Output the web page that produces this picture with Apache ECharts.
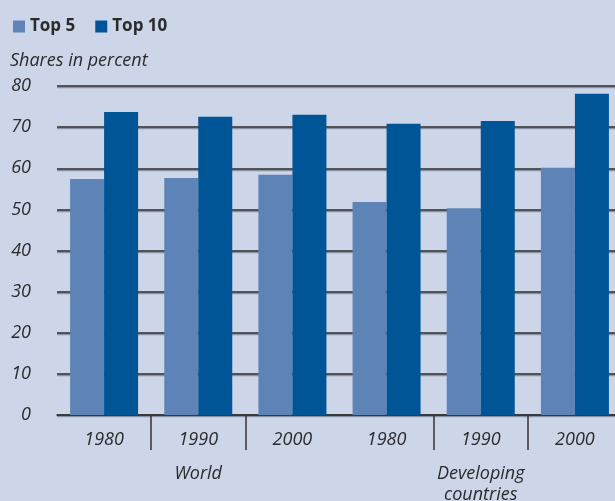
<!DOCTYPE html>
<html><head><meta charset="utf-8">
<script src="https://cdn.jsdelivr.net/npm/echarts@6/dist/echarts.min.js"></script>
<style>html,body{margin:0;padding:0;background:#cdd5e8;overflow:hidden}#c{width:615px;height:501px}</style>
</head><body><div id="c"></div>
<script>
const years = ['1980','1990','2000','1980','1990','2000'];
const groups = ['World','Developing\ncountries'];
const top5 = [57.4, 57.6, 58.4, 51.8, 50.3, 60.1];
const top10 = [73.7, 72.5, 73.0, 70.8, 71.5, 78.1];
const seriesNames = ['Top 5','Top 10'];
const yTicks = [0,10,20,30,40,50,60,70,80];

const chart = echarts.init(document.getElementById('c'), null, {renderer:'canvas'});
const txt = '#2b2b2b';
const font = 'Open Sans';
chart.setOption({
  backgroundColor:'#cdd5e8',
  animation:false,
  legend:{
    left:8, top:13, icon:'rect', itemWidth:12, itemHeight:12, itemGap:20,
    textStyle:{fontFamily:font, fontWeight:'bold', fontSize:17, color:txt},
    data:seriesNames
  },
  title:{
    text:'Shares in percent', left:5, top:47,
    textStyle:{fontFamily:font, fontStyle:'italic', fontWeight:'normal', fontSize:18, color:txt}
  },
  grid:{left:57, top:86, width:565, bottom:86, containLabel:false, outerBoundsMode:'none'},
  xAxis:[{
    type:'category', data:years, position:'bottom',
    axisLine:{show:true, lineStyle:{color:'#333', width:1.5}},
    axisTick:{show:true, length:35, lineStyle:{color:'#333', width:1.5},
      interval:function(i){return i===1||i===2||i===4||i===5;}},
    axisLabel:{margin:16, fontFamily:font, fontStyle:'italic', fontSize:18, color:txt}
  },{
    type:'category', data:groups, position:'bottom', offset:34,
    axisLine:{show:false}, axisTick:{show:false},
    axisLabel:{margin:14, fontFamily:font, fontStyle:'italic', fontSize:18, color:txt, lineHeight:21, verticalAlign:'top'}
  }],
  yAxis:{
    type:'value', min:yTicks[0], max:yTicks[yTicks.length-1], interval:10,
    axisLine:{show:false}, axisTick:{show:false},
    axisLabel:{margin:26, fontFamily:font, fontStyle:'italic', fontSize:18, color:txt},
    splitLine:{show:true, lineStyle:{color:'#2a2a2a', width:1.5, shadowColor:'#8a92a6', shadowOffsetY:1.5, shadowBlur:0}}
  },
  series:[
    {name:seriesNames[0], type:'bar', data:top5, barWidth:34, barGap:'0%', itemStyle:{color:'#5e84b7'}},
    {name:seriesNames[1], type:'bar', data:top10, barWidth:34, barGap:'0%', itemStyle:{color:'#005596'}}
  ]
});
</script></body></html>
